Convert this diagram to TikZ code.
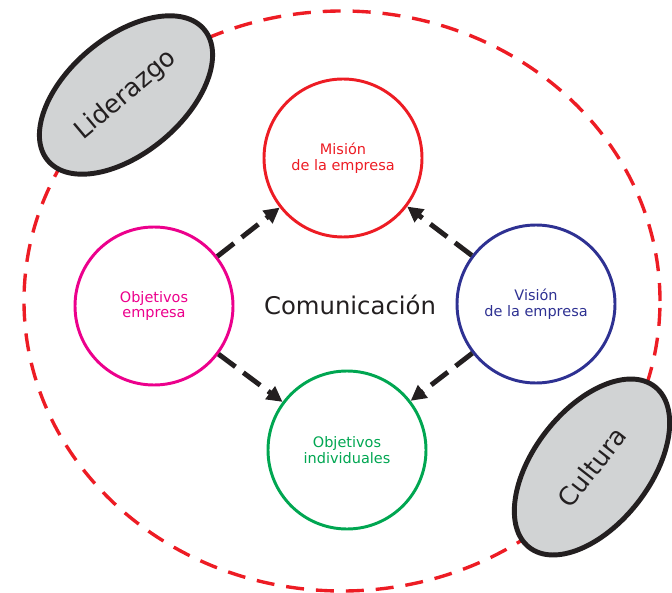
\documentclass[tikz,border=0pt]{standalone}
\usepackage{fontspec}
\setmainfont{DejaVu Sans}
\usepackage{tikz}
\usetikzlibrary{shapes.geometric,arrows.meta}
\definecolor{CoreInk}{RGB}{35,31,32}
\definecolor{CoreRed}{RGB}{237,28,36}
\definecolor{CorePink}{RGB}{236,0,140}
\definecolor{CoreBlue}{RGB}{46,49,146}
\definecolor{CoreGreen}{RGB}{0,166,81}
\definecolor{CoreGray}{RGB}{209,211,212}

\begin{document}
\begin{tikzpicture}[
  goal/.style={circle,draw=#1,text=#1,line width=2.1pt,minimum size=3.95cm,inner sep=0pt,align=center,font=\fontsize{10.3}{11}\selectfont},
  pillar/.style={ellipse,draw=CoreInk,fill=CoreGray,line width=3.5pt,minimum width=5.1cm,minimum height=2.9cm,inner sep=0pt,text=CoreInk,font=\fontsize{18}{20}\selectfont},
  arr/.style={-{Triangle[length=11pt,width=11pt]},line width=3.5pt,draw=CoreInk,dash pattern=on 15pt off 7pt}]
  \useasboundingbox (0,0) rectangle (16.8,14.8);
  \draw[CoreRed,line width=2.4pt,dash pattern=on 12.8pt off 8.5pt] (8.55,7.275) ellipse (7.95cm and 7.25cm);
  \node[goal=CoreRed] (mision) at (8.575,10.85) {Misión\\de la empresa};
  \node[goal=CorePink] (objemp) at (3.85,7.15) {Objetivos\\empresa};
  \node[goal=CoreBlue] (vision) at (13.4,7.2) {Visión\\de la empresa};
  \node[goal=CoreGreen] (objind) at (8.675,3.55) {Objetivos\\individuales};
  \node[text=CoreInk,font=\fontsize{17.3}{20}\selectfont] (comun) at (8.75,7.175) {Comunicación};
  \node[pillar,rotate=40] (liderazgo) at (3.15,12.425) {Liderazgo};
  \node[pillar,rotate=52] (cultura) at (14.8,3.125) {Cultura};
  \draw[arr] (objemp)--(mision);
  \draw[arr] (vision)--(mision);
  \draw[arr] (objemp)--(objind);
  \draw[arr] (vision)--(objind);
\end{tikzpicture}
\end{document}
